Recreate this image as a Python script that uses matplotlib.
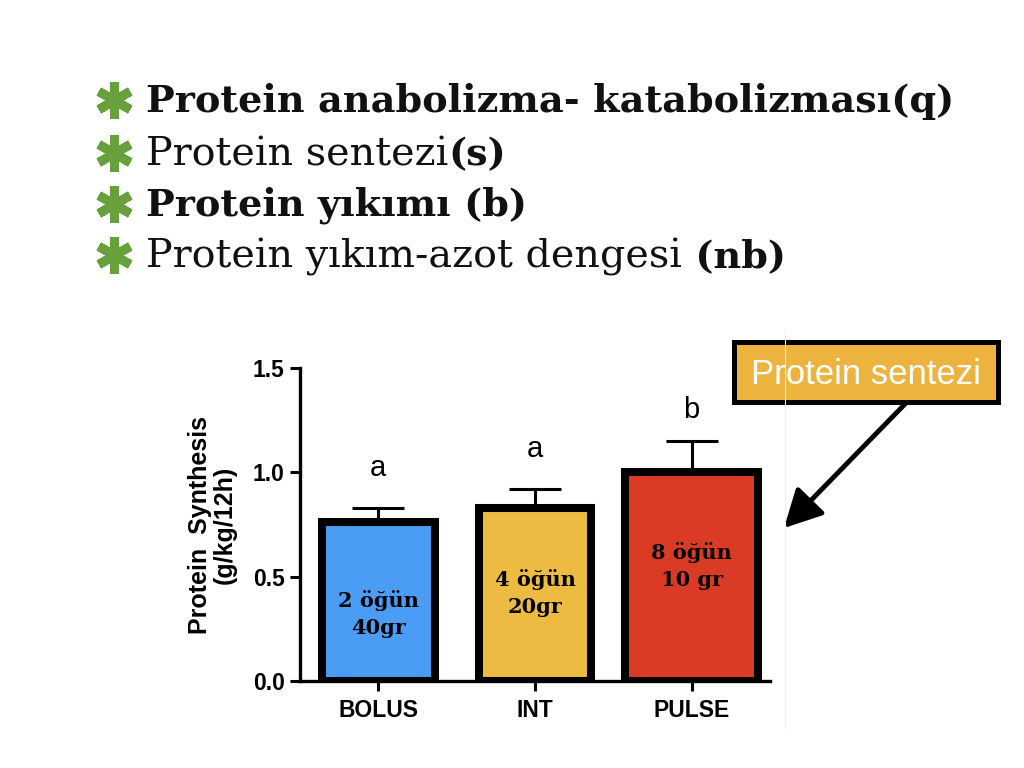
import matplotlib
matplotlib.use('Agg')
import matplotlib.pyplot as plt
from matplotlib.patches import Rectangle, FancyArrowPatch
from matplotlib.lines import Line2D
from matplotlib.markers import MarkerStyle
import numpy as np

# chart data
groups = ['BOLUS', 'INT', 'PULSE']
synthesis = [0.76, 0.83, 1.00]
sem = [0.07, 0.09, 0.15]
sig_letters = ['a', 'a', 'b']
meal_notes = ['2 öğün\n40gr', '4 öğün\n20gr', '8 öğün\n10 gr']
bar_colors = ['#4A9CF5', '#EDBA42', '#D93B25']
yticks = [0.0, 0.5, 1.0, 1.5]
ylabel = 'Protein  Synthesis\n(g/kg/12h)'

# slide text
bullets = [
    [('Protein anabolizma- katabolizması(q)', 'bold')],
    [('Protein sentezi', 'normal'), ('(s)', 'bold')],
    [('Protein yıkımı (b)', 'bold')],
    [('Protein yıkım-azot dengesi', 'normal'), (' (nb)', 'bold')],
]
callout_text = 'Protein sentezi'

plt.rcParams['font.family'] = ['Liberation Sans', 'DejaVu Sans']

W, H = 1024, 768


def fx(px):
    return px / W


def fy(py):
    return 1 - py / H


fig = plt.figure(figsize=(10.24, 7.68), dpi=100)
fig.patch.set_facecolor('white')

# faint edge of the pasted figure
fig.add_artist(Line2D([fx(785)] * 2, [fy(330), fy(728)], color='#eeeeee', lw=0.8))

ax = fig.add_axes([fx(300), 87 / H, 470 / W, 313 / H])
x = np.arange(len(groups))
widths = [0.72, 0.72, 0.85]

ax.errorbar(x, synthesis, yerr=[np.zeros(len(x)), sem], fmt='none', ecolor='black',
            elinewidth=2.2, capsize=19, capthick=2.2, zorder=2)
ax.bar(x, synthesis, width=widths, color=bar_colors, edgecolor='black', linewidth=5.8, zorder=3)

ax.set_xlim(-0.5, 2.5)
ax.set_ylim(0, 1.5)
ax.set_xticks(x)
ax.set_xticklabels(groups)
ax.set_yticks(yticks)
ax.set_yticklabels([f'{v:.1f}' for v in yticks])
for lbl in ax.get_xticklabels() + ax.get_yticklabels():
    lbl.set_fontweight('bold')
    lbl.set_fontsize(16.5)
ax.tick_params(width=2.2, length=7, pad=4, color='black')
ax.tick_params(axis='x', pad=6)
for side in ['top', 'right']:
    ax.spines[side].set_visible(False)
for side in ['left', 'bottom']:
    ax.spines[side].set_linewidth(2.4)

ax.set_ylabel(ylabel, fontsize=18, fontweight='bold', linespacing=1.05)
ax.yaxis.set_label_coords(-0.135, 0.5)

letter_y = [1.02, 1.11, 1.30]
note_y = [0.32, 0.42, 0.55]
for i in range(len(groups)):
    ax.text(x[i], letter_y[i], sig_letters[i], ha='center', va='center', fontsize=21)
    ax.text(x[i], note_y[i], meal_notes[i], ha='center', va='center', fontsize=15,
            family='DejaVu Serif', fontweight='bold', linespacing=1.45, zorder=4)

# bullet list at the top
renderer = fig.canvas.get_renderer()
bullet_base = [112, 165, 216, 267]
star = MarkerStyle((6, 2, 0), capstyle='round')
seg_size = {'bold': 27.5, 'normal': 28.5}
for segs, base in zip(bullets, bullet_base):
    fig.add_artist(Line2D([fx(114)], [fy(base - 12)], transform=fig.transFigure, ls='none',
                          marker=star, markersize=26, markeredgewidth=6.5,
                          color='#68A03C'))
    xpos = 146
    for s, w in segs:
        t = fig.text(fx(xpos), fy(base), s, family='DejaVu Serif', fontweight=w,
                     fontsize=seg_size[w], va='baseline', ha='left', color='#111111')
        bb = t.get_window_extent(renderer)
        xpos = bb.x1

# callout box and arrow
fig.add_artist(Rectangle((fx(734), fy(402)), 264 / W, 60 / H, transform=fig.transFigure,
                         facecolor='#ECB43E', edgecolor='black', lw=3.6))
fig.text(fx(866), fy(374), callout_text, ha='center', va='center', fontsize=25, color='white')
fig.add_artist(FancyArrowPatch((fx(905), fy(404)), (fx(784), fy(528)), transform=fig.transFigure,
                               arrowstyle='-|>,head_length=1.15,head_width=0.6', mutation_scale=20,
                               lw=3.5, color='black', shrinkA=0, shrinkB=0))

fig.savefig('out.png', dpi=100)
